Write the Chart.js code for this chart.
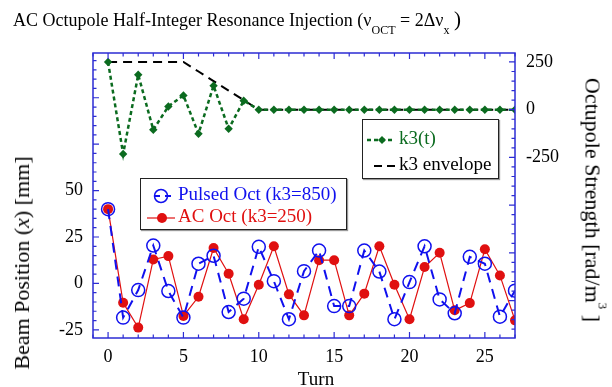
<!DOCTYPE html>
<html><head><meta charset="utf-8">
<script src="https://cdn.jsdelivr.net/npm/chart.js@4"></script>
<style>
html,body{margin:0;padding:0;background:#fff;}
#wrap{position:relative;width:612px;height:387px;font-family:'Liberation Serif',serif;}
canvas{position:absolute;left:0;top:0;}
.t{position:absolute;white-space:nowrap;color:#000;}
.rot{transform:translate(-50%,-50%) rotate(-90deg);}
.rot2{transform:translate(-50%,-50%) rotate(90deg);}
.lg{position:absolute;border:1.5px solid #222;background:#fff;box-shadow:1px 1px 1px #999;font-size:19px;}
.row{position:absolute;white-space:nowrap;}
sub{font-size:12px;vertical-align:-8px;}
sup{font-size:13px;vertical-align:13px;}
</style></head>
<body>
<div id="wrap">
<canvas id="c" width="612" height="387"></canvas>
<div class="t" style="left:13px;top:7px;font-size:18px;">AC Octupole Half-Integer Resonance Injection (ν<sub>OCT</sub> = 2Δν<sub>x</sub> <span style="font-size:21px">)</span></div>
<div class="t rot" style="left:22px;top:263px;font-size:22px;">Beam Position (<i>x</i>) [mm]</div>
<div class="t rot2" style="left:595px;top:200px;font-size:22px;">Octupole Strength [rad/m<sup>3</sup> ]</div>
<div class="lg" style="left:362px;top:119px;width:135px;height:58px;">
  <div class="row" style="left:3px;top:7px;"><svg width="30" height="20" style="vertical-align:middle"><line x1="1" y1="10" x2="29" y2="10" stroke="#0b6b1f" stroke-width="2.5" stroke-dasharray="4,3"/><polygon points="16,6 20,10 16,14 12,10" fill="#0b6b1f"/></svg><span style="color:#0b6b1f;margin-left:3px">k3(t)</span></div>
  <div class="row" style="left:3px;top:33px;"><svg width="30" height="20" style="vertical-align:middle"><line x1="8" y1="10" x2="29" y2="10" stroke="#000" stroke-width="2" stroke-dasharray="8,5"/></svg><span style="margin-left:3px">k3 envelope</span></div>
</div>
<div class="lg" style="left:140px;top:178px;width:205px;height:50px;">
  <div class="row" style="left:3px;top:4px;"><svg width="32" height="20" style="vertical-align:middle"><line x1="10" y1="10" x2="31" y2="10" stroke="#1010ee" stroke-width="2" stroke-dasharray="6,5"/><circle cx="17" cy="10" r="6.5" fill="none" stroke="#1010ee" stroke-width="1.5"/></svg><span style="color:#1010ee;margin-left:2px">Pulsed Oct (k3=850)</span></div>
  <div class="row" style="left:3px;top:26px;"><svg width="32" height="20" style="vertical-align:middle"><line x1="3" y1="10" x2="31" y2="10" stroke="#e01010" stroke-width="1.2"/><circle cx="18" cy="10" r="5" fill="#e01010"/></svg><span style="color:#e01010;margin-left:2px">AC Oct (k3=250)</span></div>
</div>
<div class="t" style="left:316px;top:379px;transform:translate(-50%,-50%);font-size:19px;">Turn</div>
</div>
<script>
const turns = [0,1,2,3,4,5,6,7,8,9,10,11,12,13,14,15,16,17,18,19,20,21,22,23,24,25,26,27];
const pulsedOct = [40,-18.4,-3.6,20.4,-4.1,-18.4,10.6,14.9,-15.4,-8.2,19.7,1.2,-19.3,6.6,17.7,-12.2,-12.2,17.7,6.4,-19.3,0.7,20.0,-8.6,-16.1,14.3,10.6,-17.9,-3.9];
const acOct = [40,-10.4,-23.8,12.9,14.7,-17.5,-7.2,19.1,5.2,-19.3,-0.7,20.0,-5.9,-17.2,12.5,12.5,-17.2,-5.5,20.0,-0.7,-19.3,8.8,16.5,-14.5,-10.6,18.4,4.3,-19.9];
const k3t = [250,-232,183,-105,17,75,-126,126,-100,47,0,0,0,0,0,0,0,0,0,0,0,0,0,0,0,0,0,0];
const k3Envelope = [250,250,250,250,250,250,200,150,100,50,0,0,0,0,0,0,0,0,0,0,0,0,0,0,0,0,0,0];
const xTickLabels = [0,5,10,15,20,25];
const leftTickLabels = [-25,0,25,50];
const rightTickLabels = [-250,0,250];

const pts = arr => turns.map((t,i)=>({x:t,y:arr[i]}));
const AX = '#2c2cd4';
Chart.defaults.font.family = "'Liberation Serif', serif";
Chart.defaults.color = '#000';

const frame = {
  id:'frame',
  afterDatasetsDraw(chart){
    const {ctx, chartArea:a, scales} = chart;
    ctx.save();
    ctx.strokeStyle = AX; ctx.lineWidth = 1.5;
    ctx.strokeRect(a.left, a.top, a.right-a.left, a.bottom-a.top);
    ctx.lineWidth = 1.2;
    ctx.beginPath();
    const sx = scales.x;
    for(let v=Math.ceil(sx.min); v<=sx.max; v++){
      const p = sx.getPixelForValue(v), L = v%5===0?6:3.5;
      ctx.moveTo(p,a.bottom); ctx.lineTo(p,a.bottom-L);
      ctx.moveTo(p,a.top); ctx.lineTo(p,a.top+L);
    }
    const sy = scales.y;
    for(let v=Math.ceil(sy.min/5)*5; v<=sy.max; v+=5){
      const p = sy.getPixelForValue(v), L = v%25===0?6:3.5;
      ctx.moveTo(a.left,p); ctx.lineTo(a.left+L,p);
    }
    const s2 = scales.y2;
    for(let v=Math.ceil(s2.min/50)*50; v<=s2.max; v+=50){
      const p = s2.getPixelForValue(v), L = v%250===0?6:3.5;
      ctx.moveTo(a.right,p); ctx.lineTo(a.right-L,p);
    }
    ctx.stroke();
    ctx.restore();
  }
};

new Chart(document.getElementById('c'), {
  type:'line',
  data:{datasets:[
    {label:'k3 envelope', data:pts(k3Envelope), yAxisID:'y2', borderColor:'#000', borderWidth:2, borderDash:[9,6], pointRadius:0, order:4, tension:0},
    {label:'k3(t)', data:pts(k3t), yAxisID:'y2', borderColor:'#0b6b1f', backgroundColor:'#0b6b1f', borderWidth:2.5, borderDash:[4,3], pointStyle:'rectRot', pointRadius:4.2, pointBorderWidth:0, pointBackgroundColor:'#0b6b1f', order:3},
    {label:'Pulsed Oct (k3=850)', data:pts(pulsedOct), yAxisID:'y', borderColor:'#1010ee', borderWidth:2, borderDash:[10,7], pointRadius:6.5, pointBorderWidth:1.5, pointBorderColor:'#1010ee', pointBackgroundColor:'rgba(0,0,0,0)', order:1},
    {label:'AC Oct (k3=250)', data:pts(acOct), yAxisID:'y', borderColor:'#e01010', borderWidth:1.2, pointRadius:5, pointBorderWidth:0, pointBackgroundColor:'#e01010', order:2}
  ]},
  options:{
    responsive:false, animation:false, devicePixelRatio:1,
    layout:{padding:{top:53,left:0,right:0,bottom:0}},
    plugins:{legend:{display:false}, tooltip:{enabled:false}},
    scales:{
      x:{type:'linear', position:'bottom', min:-1, max:27,
        afterBuildTicks:s=>{s.ticks = xTickLabels.map(v=>({value:v}));},
        afterFit:s=>{s.height = 49;},
        ticks:{font:{size:18}, color:'#000', padding:8, autoSkip:false, maxRotation:0},
        grid:{display:false, drawTicks:false}, border:{display:false}},
      y:{type:'linear', position:'left', min:-29.4, max:124.1,
        afterBuildTicks:s=>{s.ticks = leftTickLabels.map(v=>({value:v}));},
        afterFit:s=>{s.width = 93;},
        ticks:{font:{size:18}, color:'#000', padding:10, autoSkip:false},
        grid:{display:false, drawTicks:false}, border:{display:false}},
      y2:{type:'linear', position:'right', min:-1196, max:297,
        afterBuildTicks:s=>{s.ticks = rightTickLabels.map(v=>({value:v}));},
        afterFit:s=>{s.width = 97;},
        ticks:{font:{size:18}, color:'#000', padding:11, autoSkip:false},
        grid:{display:false, drawTicks:false}, border:{display:false}}
    }
  },
  plugins:[frame]
});
</script>
</body></html>
